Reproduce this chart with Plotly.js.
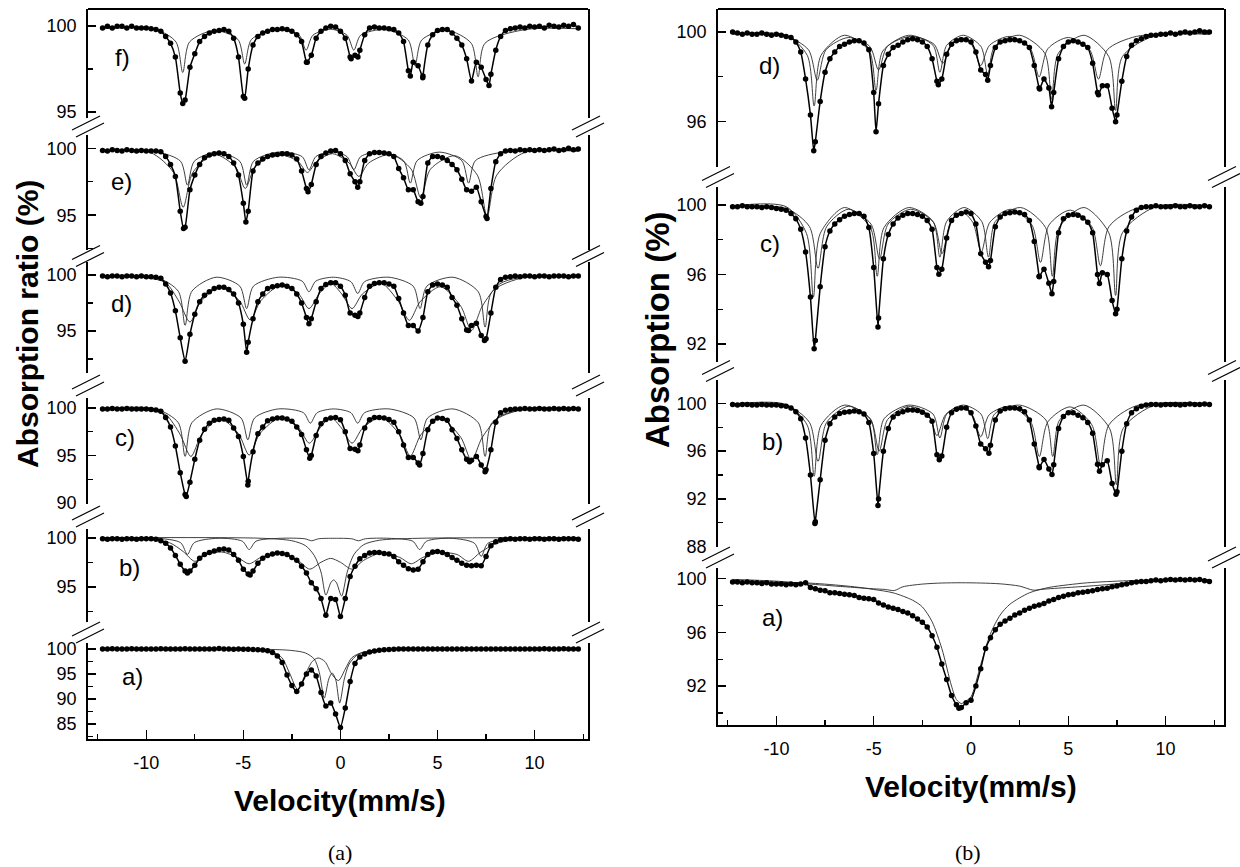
<!DOCTYPE html>
<html><head><meta charset="utf-8">
<script src="https://cdn.plot.ly/plotly-3.0.1.min.js"></script>
<style>html,body{margin:0;padding:0;background:#fff}#chart{width:1240px;height:867px}</style>
</head><body><div id="chart"></div>
<script>
// ---------- velocity channels (mm/s) ----------
const VELOCITY = [
-12.25,-12,-11.75,-11.5,-11.25,-11,-10.75,-10.5,-10.25,-10,
-9.75,-9.5,-9.25,-9,-8.75,-8.5,-8.25,-8,-7.75,-7.5,
-7.25,-7,-6.75,-6.5,-6.25,-6,-5.75,-5.5,-5.25,-5,
-4.75,-4.5,-4.25,-4,-3.75,-3.5,-3.25,-3,-2.75,-2.5,
-2.25,-2,-1.75,-1.5,-1.25,-1,-0.75,-0.5,-0.25,0,
0.25,0.5,0.75,1,1.25,1.5,1.75,2,2.25,2.5,
2.75,3,3.25,3.5,3.75,4,4.25,4.5,4.75,5,
5.25,5.5,5.75,6,6.25,6.5,6.75,7,7.25,7.5,
7.75,8,8.25,8.5,8.75,9,9.25,9.5,9.75,10,
10.25,10.5,10.75,11,11.25,11.5,11.75,12,12.25];

// ---------- panel (a): measured spectra ----------
const LEFT_F = [
99.9,100.0,99.9,100.0,100.0,99.9,100.0,99.9,99.9,99.9,
99.85,99.8,99.7,99.4,99.0,98.2,96.1,95.7,97.6,98.4,
99.1,99.4,99.6,99.7,99.75,99.8,99.7,99.3,98.2,95.9,
97.5,98.9,99.4,99.6,99.7,99.8,99.8,99.85,99.8,99.7,
99.5,99.1,97.9,98.3,99.3,99.7,99.9,100.0,99.95,99.7,
99.3,98.2,98.3,98.6,99.5,99.9,99.95,99.9,99.9,99.85,
99.8,99.6,99.1,97.4,97.9,97.7,97.1,98.9,99.5,99.75,
99.8,99.8,99.6,99.3,98.9,98.1,96.8,97.9,97.6,96.9,
97.2,98.6,99.4,99.75,99.85,99.9,99.95,99.9,100.0,99.95,
100.0,99.9,100.05,100.0,99.95,100.05,100.0,100.1,99.9];
const LEFT_F_DIP_X = [-8.12,-4.93,-1.71,0.55,0.9,3.6,4.24,7.65];
const LEFT_F_DIP_Y = [95.5,95.8,97.9,98.1,98.2,97.1,97.0,96.55];

const LEFT_E = [
99.85,99.8,99.9,99.85,99.8,99.9,99.85,99.8,99.85,99.8,
99.8,99.8,99.75,99.4,98.8,97.9,95.3,94.1,96.9,98.0,
98.8,99.3,99.5,99.6,99.65,99.6,99.4,98.9,98.0,95.9,
95.3,98.3,98.9,99.2,99.4,99.5,99.55,99.6,99.6,99.5,
99.2,98.3,97.0,97.3,98.8,99.4,99.65,99.8,99.85,99.6,
99.1,98.1,97.5,97.5,99.1,99.6,99.7,99.7,99.65,99.6,
99.4,98.5,97.8,96.9,96.9,96.0,96.4,98.9,99.4,99.4,
99.3,99.1,98.8,98.4,97.7,96.9,96.8,97.1,96.0,94.9,
97.0,99.0,99.6,99.8,99.85,99.8,99.9,99.85,99.9,99.85,
99.9,99.85,99.9,99.95,99.85,99.9,100.0,99.9,99.95];
const LEFT_E_DIP_X = [-8.08,-4.87,-1.67,0.89,4.14,7.55];
const LEFT_E_DIP_Y = [94.0,94.5,96.75,97.1,95.9,94.75];

const LEFT_D = [
99.9,99.85,99.9,99.9,99.85,99.9,99.9,99.85,99.9,99.85,
99.85,99.8,99.7,99.2,98.4,96.8,94.4,92.3,94.7,96.5,
97.6,98.2,98.5,98.8,98.9,98.9,98.7,98.3,97.5,95.6,
94.0,96.1,97.6,98.3,98.8,98.95,99.05,99.1,99.0,98.8,
98.3,97.5,96.2,96.1,97.6,98.8,99.15,99.3,99.3,99.0,
98.2,96.6,96.4,96.6,98.0,99.0,99.25,99.3,99.3,99.2,
99.0,97.9,96.6,95.5,95.5,95.0,96.2,98.5,99.1,99.2,
99.1,98.9,98.0,97.3,96.1,95.1,95.5,95.7,94.6,94.3,
96.6,98.9,99.6,99.8,99.85,99.9,99.85,99.9,99.9,99.85,
99.9,99.9,99.85,99.9,99.9,99.9,99.85,99.9,99.9];
const LEFT_D_DIP_X = [-4.83,-1.62,0.9,6.6,7.42];
const LEFT_D_DIP_Y = [93.1,95.65,96.3,95.05,94.15];

const LEFT_C = [
99.9,99.9,99.95,99.9,99.9,99.95,99.9,99.9,99.9,99.9,
99.85,99.8,99.65,99.0,98.0,96.0,93.2,90.9,92.2,94.6,
96.6,97.75,98.4,98.7,98.8,98.85,98.7,97.9,97.0,94.9,
92.3,95.4,97.3,98.0,98.65,98.85,98.95,98.95,98.85,98.6,
98.0,97.2,95.6,95.0,97.1,98.35,98.8,98.95,99.0,98.75,
97.5,95.75,95.65,96.1,97.9,98.75,99.0,99.0,98.95,98.8,
98.5,97.5,96.1,94.8,94.8,94.2,95.2,97.7,98.6,98.95,
98.9,98.7,97.7,96.8,95.6,94.6,94.5,94.9,94.0,93.5,
95.6,98.5,99.5,99.75,99.85,99.9,99.9,99.95,99.9,99.9,
99.95,99.9,99.9,99.95,99.9,99.95,99.9,99.95,99.9];
const LEFT_C_DIP_X = [-7.94,-4.77,-1.58,0.9,4.08,6.65,7.45];
const LEFT_C_DIP_Y = [90.7,91.9,94.7,95.5,94.0,94.35,93.3];

const LEFT_B = [
99.9,99.85,99.9,99.9,99.85,99.9,99.9,99.85,99.9,99.9,
99.9,99.85,99.7,99.45,98.95,98.2,97.3,96.6,96.6,97.2,
97.9,98.3,98.5,98.65,98.8,98.85,98.75,98.3,97.7,96.8,
96.3,96.6,97.4,97.9,98.2,98.35,98.45,98.4,98.3,98.0,
97.7,97.1,96.4,95.4,94.8,93.8,92.1,93.8,93.7,91.95,
93.8,96.05,97.1,97.85,98.2,98.45,98.5,98.5,98.4,98.35,
98.1,97.55,97.2,96.85,96.7,96.8,97.55,98.3,98.55,98.6,
98.5,98.3,98.0,97.7,97.4,97.2,97.15,97.2,97.15,98.1,
99.2,99.6,99.8,99.85,99.9,99.85,99.9,99.9,99.85,99.9,
99.9,99.85,99.9,99.9,99.85,99.9,99.9,99.9,99.85];
const LEFT_B_DIP_X = [-7.88,-4.65];
const LEFT_B_DIP_Y = [96.4,96.2];

const LEFT_A = [
100,100,100.05,100,100,100,100.05,100,100,100,
100,100,100.05,100,100,100,100,100.05,100,100,
100,100,100,100,100.1,100,100,99.95,100,99.95,
99.95,99.9,99.85,99.8,99.65,99.3,98.6,97.3,94.8,92.7,
91.5,93.0,95.0,95.8,94.6,91.3,88.6,89.2,87.0,84.3,
88.2,93.5,97.1,98.4,99.0,99.4,99.6,99.75,99.85,99.9,
99.95,100,100,100,100,100,100,100,100,100,
100,100,100,100,100,100,100,100,100,100,
100,100,100,100,100,100,100,100,100,100,
100,100.05,100,100,100,100.05,100,100,100];
const LEFT_A_DIP_X = [];
const LEFT_A_DIP_Y = [];

// ---------- panel (a): fitted sub-spectra ----------
const LEFT_F_SUB1_X = [-12.25,-9.5,-8.47,-8.12,-7.77,-6.5,-5.28,-4.93,-4.58,-3.3,-2.12,-1.77,-1.42,-0.5,0.34,0.69,1.04,2.3,3.49,3.84,4.19,5.5,6.74,7.09,7.44,9.5,12.25];
const LEFT_F_SUB1_Y = [99.85,99.8,99.08,97.3,99.08,99.75,99.23,97.8,99.23,99.8,99.47,98.6,99.47,99.82,99.47,98.6,99.47,99.8,99.2,97.7,99.2,99.75,99.0,97.05,99.0,99.8,99.85];

const LEFT_E_SUB1_X = [-12.25,-9.5,-8.23,-7.88,-7.53,-6.4,-5.18,-4.83,-4.48,-3.2,-1.97,-1.62,-1.27,-0.45,0.34,0.69,1.04,2.1,3.25,3.6,3.95,5.1,6.25,6.6,6.95,8.5,12.25];
const LEFT_E_SUB1_Y = [99.8,99.75,99.03,97.25,99.03,99.7,99.03,97.25,99.03,99.72,99.38,98.4,99.38,99.75,99.38,98.4,99.38,99.75,99.08,97.4,99.08,99.72,99.08,97.4,99.08,99.75,99.8];
const LEFT_E_SUB2_X = [-12.25,-9.8,-8.6,-8.1,-7.6,-6.5,-5.4,-4.9,-4.4,-3.3,-2.2,-1.7,-1.2,-0.4,0.45,0.95,1.45,2.6,3.64,4.14,4.64,5.9,7.05,7.55,8.05,9.5,12.25];
const LEFT_E_SUB2_Y = [99.8,99.7,98.2,95.6,98.2,99.55,98.6,97.0,98.6,99.55,99.05,98.2,99.05,99.6,98.9,97.9,98.9,99.55,98.45,96.3,98.45,99.45,98.0,94.9,98.0,99.7,99.8];

const LEFT_D_SUB1_X = [-12.25,-9.5,-8.35,-8.0,-7.65,-6.4,-5.18,-4.83,-4.48,-3.2,-1.97,-1.62,-1.27,-0.35,0.54,0.89,1.24,2.5,3.75,4.1,4.45,5.8,7.1,7.45,7.8,9.5,12.25];
const LEFT_D_SUB1_Y = [99.85,99.8,98.55,95.5,98.55,99.8,99.0,97.0,99.0,99.8,99.45,98.5,99.45,99.8,99.4,98.35,99.4,99.8,99.0,97.0,99.0,99.8,98.5,95.35,98.5,99.8,99.85];
const LEFT_D_SUB2_X = [-12.25,-10.0,-9.0,-8.3,-7.75,-7.2,-6.2,-5.2,-4.65,-4.1,-3.1,-2.15,-1.62,-1.1,-0.5,0.07,0.6,1.13,2.1,3.0,3.55,4.1,5.15,6.2,6.75,7.3,8.2,9.2,12.25];
const LEFT_D_SUB2_Y = [99.85,99.75,99.3,97.6,95.8,97.6,98.9,97.7,96.0,97.7,99.05,98.3,97.0,98.3,99.25,98.3,97.0,98.3,99.25,97.6,95.95,97.6,98.95,97.2,95.05,97.2,99.2,99.75,99.85];

const LEFT_C_SUB1_X = [-12.25,-9.5,-8.35,-8.0,-7.65,-6.4,-5.12,-4.77,-4.42,-3.2,-1.9,-1.55,-1.2,-0.35,0.54,0.89,1.24,2.5,3.79,4.14,4.49,5.8,7.1,7.45,7.8,9.5,12.25];
const LEFT_C_SUB1_Y = [99.95,99.9,98.45,94.9,98.45,99.9,98.95,96.65,98.95,99.9,99.5,98.4,99.5,99.9,99.5,98.4,99.5,99.9,98.95,96.65,98.95,99.9,98.45,94.9,98.45,99.9,99.95];
const LEFT_C_SUB2_X = [-12.25,-10.0,-9.0,-8.25,-7.7,-7.15,-6.2,-5.25,-4.7,-4.15,-3.1,-2.15,-1.6,-1.05,-0.5,0.05,0.6,1.15,2.1,3.05,3.6,4.15,5.15,6.2,6.75,7.3,8.2,9.2,12.25];
const LEFT_C_SUB2_Y = [99.95,99.8,99.3,97.2,94.9,97.2,98.85,97.3,95.05,97.3,98.95,97.9,96.3,97.9,99.0,97.9,96.3,97.9,99.0,97.2,94.95,97.2,98.9,96.9,94.5,96.9,99.1,99.75,99.95];

const LEFT_B_SUB1_X = [-12.25,-9.5,-8.23,-7.88,-7.53,-6.3,-5.05,-4.7,-4.35,-3.1,-1.83,-1.48,-1.13,-0.3,0.58,0.93,1.28,2.5,3.73,4.08,4.43,5.7,6.9,7.25,7.6,9.5,12.25];
const LEFT_B_SUB1_Y = [100,99.97,99.5,98.3,99.5,99.95,99.65,98.8,99.65,99.95,99.9,99.7,99.9,99.95,99.9,99.7,99.9,99.95,99.65,98.8,99.65,99.95,99.45,98.1,99.45,99.97,100];
const LEFT_B_SUB2_X = [-12.25,-10.0,-8.8,-8.1,-7.5,-6.9,-6.1,-5.3,-4.7,-4.1,-3.1,-2.2,-1.58,-1.0,-0.5,0.0,0.6,1.2,2.1,3.05,3.65,4.25,5.1,6.0,6.6,7.2,8.0,9.2,12.25];
const LEFT_B_SUB2_Y = [100,99.85,99.5,98.6,97.6,98.3,98.55,98.0,97.35,98.0,98.45,97.7,96.8,97.5,97.9,97.5,96.8,97.7,98.45,98.0,97.35,98.0,98.5,98.3,97.6,98.5,99.4,99.85,100];
const LEFT_B_SUB3_X = [-12.25,-4.0,-2.5,-1.8,-1.35,-1.0,-0.75,-0.5,-0.35,-0.2,0.06,0.35,0.7,1.2,2.0,4.0,12.25];
const LEFT_B_SUB3_Y = [100,99.95,99.7,99.2,98.2,96.5,94.15,95.4,95.7,95.4,94.05,96.5,98.3,99.3,99.75,99.95,100];

const LEFT_A_SUB1_X = [-12.25,-5,-3.5,-3.0,-2.6,-2.2,-1.8,-1.45,-1.15,-0.8,-0.45,-0.1,0.25,0.6,1.2,2.5,12.25];
const LEFT_A_SUB1_Y = [100,99.9,99.4,98.2,95.0,91.9,95.0,97.5,98.2,97.5,95.0,93.7,96.0,98.3,99.4,99.85,100];
const LEFT_A_SUB2_X = [-12.25,-4,-2.5,-1.8,-1.35,-1.1,-0.83,-0.6,-0.43,-0.25,-0.04,0.2,0.45,0.9,1.6,3,12.25];
const LEFT_A_SUB2_Y = [100,99.95,99.7,99.2,98.0,95.5,90.2,94.0,95.2,94.0,89.2,94.0,97.0,98.9,99.6,99.9,100];

// ---------- panel (b): measured spectra ----------
const RIGHT_D = [
100.0,99.95,99.9,99.95,99.9,99.9,99.95,99.9,99.85,99.9,
99.85,99.8,99.75,99.55,99.1,97.9,96.3,95.1,96.9,98.2,
98.8,99.1,99.35,99.45,99.55,99.6,99.6,99.5,99.2,97.3,
96.8,98.5,99.0,99.3,99.4,99.55,99.65,99.7,99.65,99.55,
99.35,98.8,97.8,97.9,99.0,99.45,99.6,99.65,99.65,99.55,
99.1,98.3,98.1,98.5,99.3,99.55,99.6,99.65,99.65,99.6,
99.5,99.3,98.5,97.5,97.9,97.5,97.3,98.8,99.35,99.55,
99.6,99.55,99.45,99.3,98.6,97.3,97.6,97.6,96.6,96.3,
97.8,98.9,99.4,99.6,99.7,99.8,99.85,99.85,99.9,99.9,
99.95,99.9,99.95,100.0,99.95,100.0,100.05,100.0,100.0];
const RIGHT_D_DIP_X = [-8.08,-4.88,-1.68,0.86,3.53,4.14,6.55,7.43];
const RIGHT_D_DIP_Y = [94.7,95.55,97.65,97.85,97.45,96.67,97.2,96.0];

const RIGHT_C = [
99.9,99.9,99.95,99.9,99.9,99.9,99.85,99.9,99.85,99.8,
99.75,99.7,99.5,99.2,98.6,97.3,94.7,92.2,95.3,97.6,
98.5,98.9,99.15,99.35,99.45,99.5,99.5,99.35,98.7,96.4,
93.5,96.9,98.3,98.9,99.25,99.4,99.5,99.5,99.45,99.35,
99.1,98.6,96.4,96.3,98.1,99.1,99.4,99.5,99.6,99.5,
98.9,97.2,96.7,96.8,98.75,99.3,99.5,99.55,99.6,99.55,
99.45,99.1,97.9,95.9,96.3,95.5,95.6,98.4,99.2,99.4,
99.45,99.4,99.25,99.0,98.4,96.0,96.1,96.0,94.5,94.0,
96.9,98.5,99.3,99.7,99.85,99.9,99.9,99.95,99.9,99.9,
99.9,99.95,99.9,99.9,99.95,99.9,99.9,99.95,99.9];
const RIGHT_C_DIP_X = [-8.06,-4.78,-1.65,0.9,3.51,4.16,6.6,7.43];
const RIGHT_C_DIP_Y = [91.73,92.98,96.02,96.44,95.87,94.9,95.48,93.75];

const RIGHT_B = [
99.9,99.85,99.9,99.9,99.85,99.85,99.9,99.85,99.85,99.85,
99.8,99.75,99.6,99.3,98.7,97.1,94.0,90.1,93.6,96.9,
98.3,98.85,99.15,99.25,99.3,99.35,99.3,99.1,98.4,95.8,
92.0,96.0,97.9,98.85,99.15,99.3,99.45,99.45,99.4,99.25,
99.0,98.5,95.7,95.6,98.0,99.2,99.5,99.6,99.6,99.2,
98.1,96.6,96.2,96.5,98.6,99.35,99.55,99.6,99.6,99.55,
99.3,98.6,96.6,94.7,95.3,94.5,94.85,97.9,98.9,99.2,
99.2,99.0,98.8,98.4,97.5,94.9,94.85,95.2,93.3,92.6,
96.0,98.3,99.2,99.55,99.75,99.85,99.9,99.9,99.85,99.9,
99.9,99.9,99.85,99.9,99.95,99.9,99.9,99.95,99.9];
const RIGHT_B_DIP_X = [-8.02,-4.78,-1.63,0.92,3.51,4.16,6.6,7.45];
const RIGHT_B_DIP_Y = [89.95,91.45,95.27,95.82,94.6,94.04,94.32,92.4];

const RIGHT_A = [
99.75,99.75,99.7,99.75,99.7,99.7,99.65,99.7,99.6,99.6,
99.6,99.55,99.6,99.55,99.6,99.7,99.35,99.25,99.15,99.1,
98.95,98.95,98.9,98.85,98.8,98.75,98.6,98.55,98.5,98.45,
98.2,98.05,97.9,97.8,97.7,97.55,97.45,97.25,97.0,96.75,
96.4,95.75,94.9,93.65,92.5,91.3,90.6,90.4,90.75,90.95,
92.0,93.3,94.8,95.6,96.2,96.6,96.85,97.05,97.3,97.45,
97.65,97.8,97.95,98.05,98.15,98.35,98.45,98.6,98.7,98.8,
98.85,98.95,99.0,99.05,99.1,99.2,99.25,99.3,99.4,99.45,
99.55,99.6,99.7,99.75,99.8,99.8,99.85,99.9,99.85,99.9,
99.95,99.9,99.95,99.9,99.95,99.9,99.95,99.85,99.8];
const RIGHT_A_DIP_X = [-0.62];
const RIGHT_A_DIP_Y = [90.35];

// ---------- panel (b): fitted sub-spectra ----------
const RIGHT_D_SUB1_X = [-12.25,-9.5,-8.41,-8.06,-7.71,-6.5,-5.23,-4.88,-4.53,-3.2,-1.95,-1.6,-1.25,-0.4,0.51,0.86,1.21,2.5,3.79,4.14,4.49,5.8,7.08,7.43,7.78,9.5,12.25];
const RIGHT_D_SUB1_Y = [99.9,99.85,98.95,96.7,98.95,99.85,99.15,97.4,99.15,99.85,99.4,98.2,99.4,99.85,99.35,98.1,99.35,99.85,99.05,97.0,99.05,99.85,98.9,96.5,98.9,99.85,99.9];
const RIGHT_D_SUB2_X = [-12.25,-9.5,-8.35,-7.9,-7.45,-6.3,-5.2,-4.75,-4.3,-3.1,-1.9,-1.45,-1.0,-0.5,0.05,0.5,0.95,2.0,3.05,3.5,3.95,5.0,6.1,6.55,7.0,8.5,12.25];
const RIGHT_D_SUB2_Y = [99.9,99.8,99.2,97.85,99.2,99.75,99.35,98.3,99.35,99.8,99.45,98.6,99.45,99.75,99.4,98.5,99.4,99.8,99.25,98.0,99.25,99.75,99.2,97.9,99.2,99.8,99.9];

const RIGHT_C_SUB1_X = [-12.25,-9.5,-8.45,-8.1,-7.75,-6.5,-5.17,-4.82,-4.47,-3.2,-1.95,-1.6,-1.25,-0.35,0.55,0.9,1.25,2.55,3.83,4.18,4.53,5.8,7.08,7.43,7.78,9.5,12.25];
const RIGHT_C_SUB1_Y = [99.95,99.9,98.35,94.7,98.35,99.85,98.7,95.9,98.7,99.85,99.05,97.0,99.05,99.85,99.05,97.0,99.05,99.85,98.7,95.9,98.7,99.85,98.4,94.8,98.4,99.9,99.95];
const RIGHT_C_SUB2_X = [-12.25,-9.5,-8.3,-7.86,-7.42,-6.3,-5.14,-4.7,-4.26,-3.1,-1.93,-1.49,-1.05,-0.48,0.09,0.53,0.97,2.05,3.13,3.57,4.01,5.1,6.21,6.65,7.09,8.5,12.25];
const RIGHT_C_SUB2_Y = [99.9,99.8,98.75,96.35,98.75,99.75,98.9,96.9,98.9,99.75,99.0,97.2,99.0,99.6,99.0,97.3,99.0,99.75,98.85,96.7,98.85,99.7,98.75,96.5,98.75,99.8,99.9];

const RIGHT_B_SUB1_X = [-12.25,-9.5,-8.41,-8.06,-7.71,-6.5,-5.17,-4.82,-4.47,-3.2,-1.95,-1.6,-1.25,-0.4,0.51,0.86,1.21,2.5,3.85,4.2,4.55,5.8,7.12,7.47,7.82,9.5,12.25];
const RIGHT_B_SUB1_Y = [99.95,99.9,98.15,93.9,98.15,99.85,98.7,95.7,98.7,99.85,99.1,97.1,99.1,99.85,99.1,97.05,99.1,99.85,98.6,95.55,98.6,99.85,97.9,93.2,97.9,99.9,99.95];
const RIGHT_B_SUB2_X = [-12.25,-9.5,-8.3,-7.86,-7.42,-6.3,-5.16,-4.72,-4.28,-3.2,-2.19,-1.75,-1.31,-0.6,0.06,0.5,0.94,2.0,3.07,3.51,3.95,5.1,6.21,6.65,7.09,8.5,12.25];
const RIGHT_B_SUB2_Y = [99.95,99.85,98.4,95.14,98.4,99.75,98.65,96.0,98.65,99.75,99.05,97.3,99.05,99.7,99.05,97.2,99.05,99.75,98.45,95.55,98.45,99.7,98.2,94.86,98.2,99.8,99.95];

const RIGHT_A_SUB1_X = [-12.25,-10,-8,-6,-5,-4.4,-3.94,-3.5,-2.5,-1.5,-0.5,0.5,1.5,2.5,3.2,3.7,4.5,6.5,8.5,10.5,12.25];
const RIGHT_A_SUB1_Y = [99.95,99.82,99.57,99.35,99.25,99.2,99.12,99.4,99.6,99.68,99.7,99.68,99.62,99.45,99.15,99.22,99.3,99.5,99.75,99.88,99.92];
const RIGHT_A_SUB2_X = [-12.25,-10,-8,-6,-5,-4,-3,-2.5,-2,-1.5,-1.0,-0.75,-0.5,-0.25,0,0.5,1.0,1.5,2.0,3.0,4.0,5.0,6.0,8.0,10.0,12.25];
const RIGHT_A_SUB2_Y = [99.85,99.75,99.65,99.4,99.2,98.95,98.4,97.9,96.8,94.8,92.0,91.0,90.7,90.9,91.2,93.6,95.9,97.3,98.1,98.95,99.35,99.55,99.7,99.85,99.9,99.92];

// ---------- tick labels / texts ----------
const X_TICK_VALS = [-10, -5, 0, 5, 10];
const X_TICK_TEXT = ['-10', '-5', '0', '5', '10'];
const X_MINOR_VALS = [-12.5, -7.5, -2.5, 2.5, 7.5, 12.5];
const SAMPLE_LABELS_LEFT = ['a)','b)','c)','d)','e)','f)'];
const SAMPLE_LABELS_RIGHT = ['a)','b)','c)','d)'];

// ================= drawing =================
const W = 1240, H = 867;
const fx = p => p / W;
const fy = p => 1 - p / H;

function merged(vals, dx, dy) {
  const pts = VELOCITY.map((v, i) => [v, vals[i]]);
  for (let k = 0; k < dx.length; k++) pts.push([dx[k], dy[k]]);
  pts.sort((a, b) => a[0] - b[0]);
  return { x: pts.map(p => p[0]), y: pts.map(p => p[1]) };
}

// geometry: [axis key, top px, bottom px, range]
const LEFT_GEOM = [
  ['yaxis',  643, 739, [82, 101.2]],
  ['yaxis2', 529, 622, [91.4, 100.9]],
  ['yaxis3', 398, 504, [89.9, 101.05]],
  ['yaxis4', 262, 373, [91.25, 101.16]],
  ['yaxis5', 135, 250, [92.4, 101.0]],
  ['yaxis6', 9, 118, [94.65, 101.0]]
];
const RIGHT_GEOM = [
  ['yaxis7', 568, 725, [89.1, 100.8]],
  ['yaxis8', 380, 547, [87.98, 101.95]],
  ['yaxis9', 187, 362, [90.97, 101.03]],
  ['yaxis10', 9, 167, [93.98, 101.02]]
];
const LX = [88, 588], RX = [718, 1224];

const leftSets = [
  [LEFT_A, LEFT_A_DIP_X, LEFT_A_DIP_Y, [[LEFT_A_SUB1_X, LEFT_A_SUB1_Y], [LEFT_A_SUB2_X, LEFT_A_SUB2_Y]]],
  [LEFT_B, LEFT_B_DIP_X, LEFT_B_DIP_Y, [[LEFT_B_SUB1_X, LEFT_B_SUB1_Y], [LEFT_B_SUB2_X, LEFT_B_SUB2_Y], [LEFT_B_SUB3_X, LEFT_B_SUB3_Y]]],
  [LEFT_C, LEFT_C_DIP_X, LEFT_C_DIP_Y, [[LEFT_C_SUB1_X, LEFT_C_SUB1_Y], [LEFT_C_SUB2_X, LEFT_C_SUB2_Y]]],
  [LEFT_D, LEFT_D_DIP_X, LEFT_D_DIP_Y, [[LEFT_D_SUB1_X, LEFT_D_SUB1_Y], [LEFT_D_SUB2_X, LEFT_D_SUB2_Y]]],
  [LEFT_E, LEFT_E_DIP_X, LEFT_E_DIP_Y, [[LEFT_E_SUB1_X, LEFT_E_SUB1_Y], [LEFT_E_SUB2_X, LEFT_E_SUB2_Y]]],
  [LEFT_F, LEFT_F_DIP_X, LEFT_F_DIP_Y, [[LEFT_F_SUB1_X, LEFT_F_SUB1_Y]]]
];
const rightSets = [
  [RIGHT_A, RIGHT_A_DIP_X, RIGHT_A_DIP_Y, [[RIGHT_A_SUB1_X, RIGHT_A_SUB1_Y], [RIGHT_A_SUB2_X, RIGHT_A_SUB2_Y]]],
  [RIGHT_B, RIGHT_B_DIP_X, RIGHT_B_DIP_Y, [[RIGHT_B_SUB1_X, RIGHT_B_SUB1_Y], [RIGHT_B_SUB2_X, RIGHT_B_SUB2_Y]]],
  [RIGHT_C, RIGHT_C_DIP_X, RIGHT_C_DIP_Y, [[RIGHT_C_SUB1_X, RIGHT_C_SUB1_Y], [RIGHT_C_SUB2_X, RIGHT_C_SUB2_Y]]],
  [RIGHT_D, RIGHT_D_DIP_X, RIGHT_D_DIP_Y, [[RIGHT_D_SUB1_X, RIGHT_D_SUB1_Y], [RIGHT_D_SUB2_X, RIGHT_D_SUB2_Y]]]
];

const traces = [];
function addSet(set, xa, ya) {
  const [vals, dx, dy, comps] = set;
  comps.forEach(c => traces.push({
    x: c[0], y: c[1], xaxis: xa, yaxis: ya, type: 'scatter', mode: 'lines',
    line: { color: '#2a2a2a', width: 0.9, shape: 'spline', smoothing: 0.8 },
    hoverinfo: 'skip', cliponaxis: true
  }));
  const m = merged(vals, dx, dy);
  traces.push({
    x: m.x, y: m.y, xaxis: xa, yaxis: ya, type: 'scatter', mode: 'lines+markers',
    line: { color: '#000', width: 1.5, shape: 'spline', smoothing: 0.5 },
    marker: { color: '#000', size: 5.5 }, cliponaxis: true
  });
}
leftSets.forEach((s, i) => addSet(s, 'x', LEFT_GEOM[i][0].replace('axis', '')));
rightSets.forEach((s, i) => addSet(s, 'x2', RIGHT_GEOM[i][0].replace('axis', '')));

const FONT = 'Liberation Sans, Arial, sans-serif';
const layout = {
  width: W, height: H, margin: { l: 0, r: 0, t: 0, b: 0 },
  paper_bgcolor: '#fff', plot_bgcolor: 'rgba(0,0,0,0)', showlegend: false,
  font: { family: FONT, color: '#000' },
  shapes: [], annotations: []
};

function xAxis(dom, anchor, range) {
  return {
    domain: [fx(dom[0]), fx(dom[1])], anchor: anchor, range: range,
    showline: true, linecolor: '#000', linewidth: 1.8, mirror: false,
    ticks: 'inside', ticklen: 9, tickwidth: 1.5, tickcolor: '#000',
    tickmode: 'array', tickvals: X_TICK_VALS, ticktext: X_TICK_TEXT,
    minor: { ticks: 'inside', ticklen: 5, tickwidth: 1.3, tickcolor: '#000', tickmode: 'array', tickvals: X_MINOR_VALS, showgrid: false },
    showgrid: false, zeroline: false, automargin: false,
    tickfont: { family: FONT, size: 18, color: '#000' }, ticklabelstandoff: 7, fixedrange: true
  };
}
layout.xaxis = xAxis(LX, 'y', [-13, 12.75]);
layout.xaxis2 = xAxis(RX, 'y7', [-13, 13]);

function yAxis(g, anchor, dt) {
  return {
    domain: [fy(g[2]), fy(g[1])], anchor: anchor, range: g[3],
    showline: true, linecolor: '#000', linewidth: 1.8, mirror: true,
    ticks: 'inside', ticklen: 8, tickwidth: 1.5, tickcolor: '#000',
    tickmode: 'linear', tick0: 0, dtick: dt,
    minor: { ticks: 'inside', ticklen: 5, tickwidth: 1.3, tickcolor: '#000', dtick: dt / 2, tick0: 0, showgrid: false },
    showgrid: false, zeroline: false, automargin: false,
    tickfont: { family: FONT, size: 18, color: '#000' }, ticklabelstandoff: 6, fixedrange: true
  };
}
LEFT_GEOM.forEach(g => { layout[g[0]] = yAxis(g, 'x', 5); });
RIGHT_GEOM.forEach(g => { layout[g[0]] = yAxis(g, 'x2', 4); });

// frame tops
function pline(x0, y0, x1, y1, w) {
  layout.shapes.push({ type: 'line', xref: 'paper', yref: 'paper',
    x0: fx(x0), y0: fy(y0), x1: fx(x1), y1: fy(y1), line: { color: '#000', width: w } });
}
pline(LX[0], 9, LX[1], 9, 1.8);
pline(RX[0], 9, RX[1], 9, 1.8);

// axis break marks
function breakMark(x, yc) {
  pline(x - 16, yc + 3.5, x + 12, yc - 10.5, 1.2);
  pline(x - 12, yc + 10.5, x + 16, yc - 3.5, 1.2);
}
function gaps(geom, xs) {
  for (let i = 0; i < geom.length - 1; i++) {
    const yc = (geom[i][1] + geom[i + 1][2]) / 2;
    breakMark(xs[0], yc); breakMark(xs[1], yc);
  }
}
gaps(LEFT_GEOM, LX);
gaps(RIGHT_GEOM, RX);

function ann(text, x, y, size, opts) {
  layout.annotations.push(Object.assign({
    text: text, xref: 'paper', yref: 'paper', x: fx(x), y: fy(y),
    xanchor: 'center', yanchor: 'middle', showarrow: false,
    font: { family: FONT, size: size, color: '#000' }
  }, opts || {}));
}
const LEFT_LABEL_POS = [[132, 676], [129, 567], [125, 437], [121, 303], [121, 182], [122, 57]];
const RIGHT_LABEL_POS = [[772, 617], [772, 442], [770, 243], [769, 65]];
SAMPLE_LABELS_LEFT.forEach((t, i) => ann(t, LEFT_LABEL_POS[i][0], LEFT_LABEL_POS[i][1], 24));
SAMPLE_LABELS_RIGHT.forEach((t, i) => ann(t, RIGHT_LABEL_POS[i][0], RIGHT_LABEL_POS[i][1], 24));

ann('<b>Absorption ratio (%)</b>', 28, 324, 30, { textangle: -90 });
ann('<b>Absorption (%)</b>', 657, 330, 33, { textangle: -90 });
ann('<b>Velocity(mm/s)</b>', 340, 800, 30);
ann('<b>Velocity(mm/s)</b>', 971, 786, 30);
ann('(a)', 340, 852, 22, { font: { family: 'Liberation Serif, Times New Roman, serif', size: 22, color: '#000' } });
ann('(b)', 968, 852, 22, { font: { family: 'Liberation Serif, Times New Roman, serif', size: 22, color: '#000' } });

Plotly.newPlot('chart', traces, layout, { staticPlot: true, displayModeBar: false });
</script>
</body></html>
